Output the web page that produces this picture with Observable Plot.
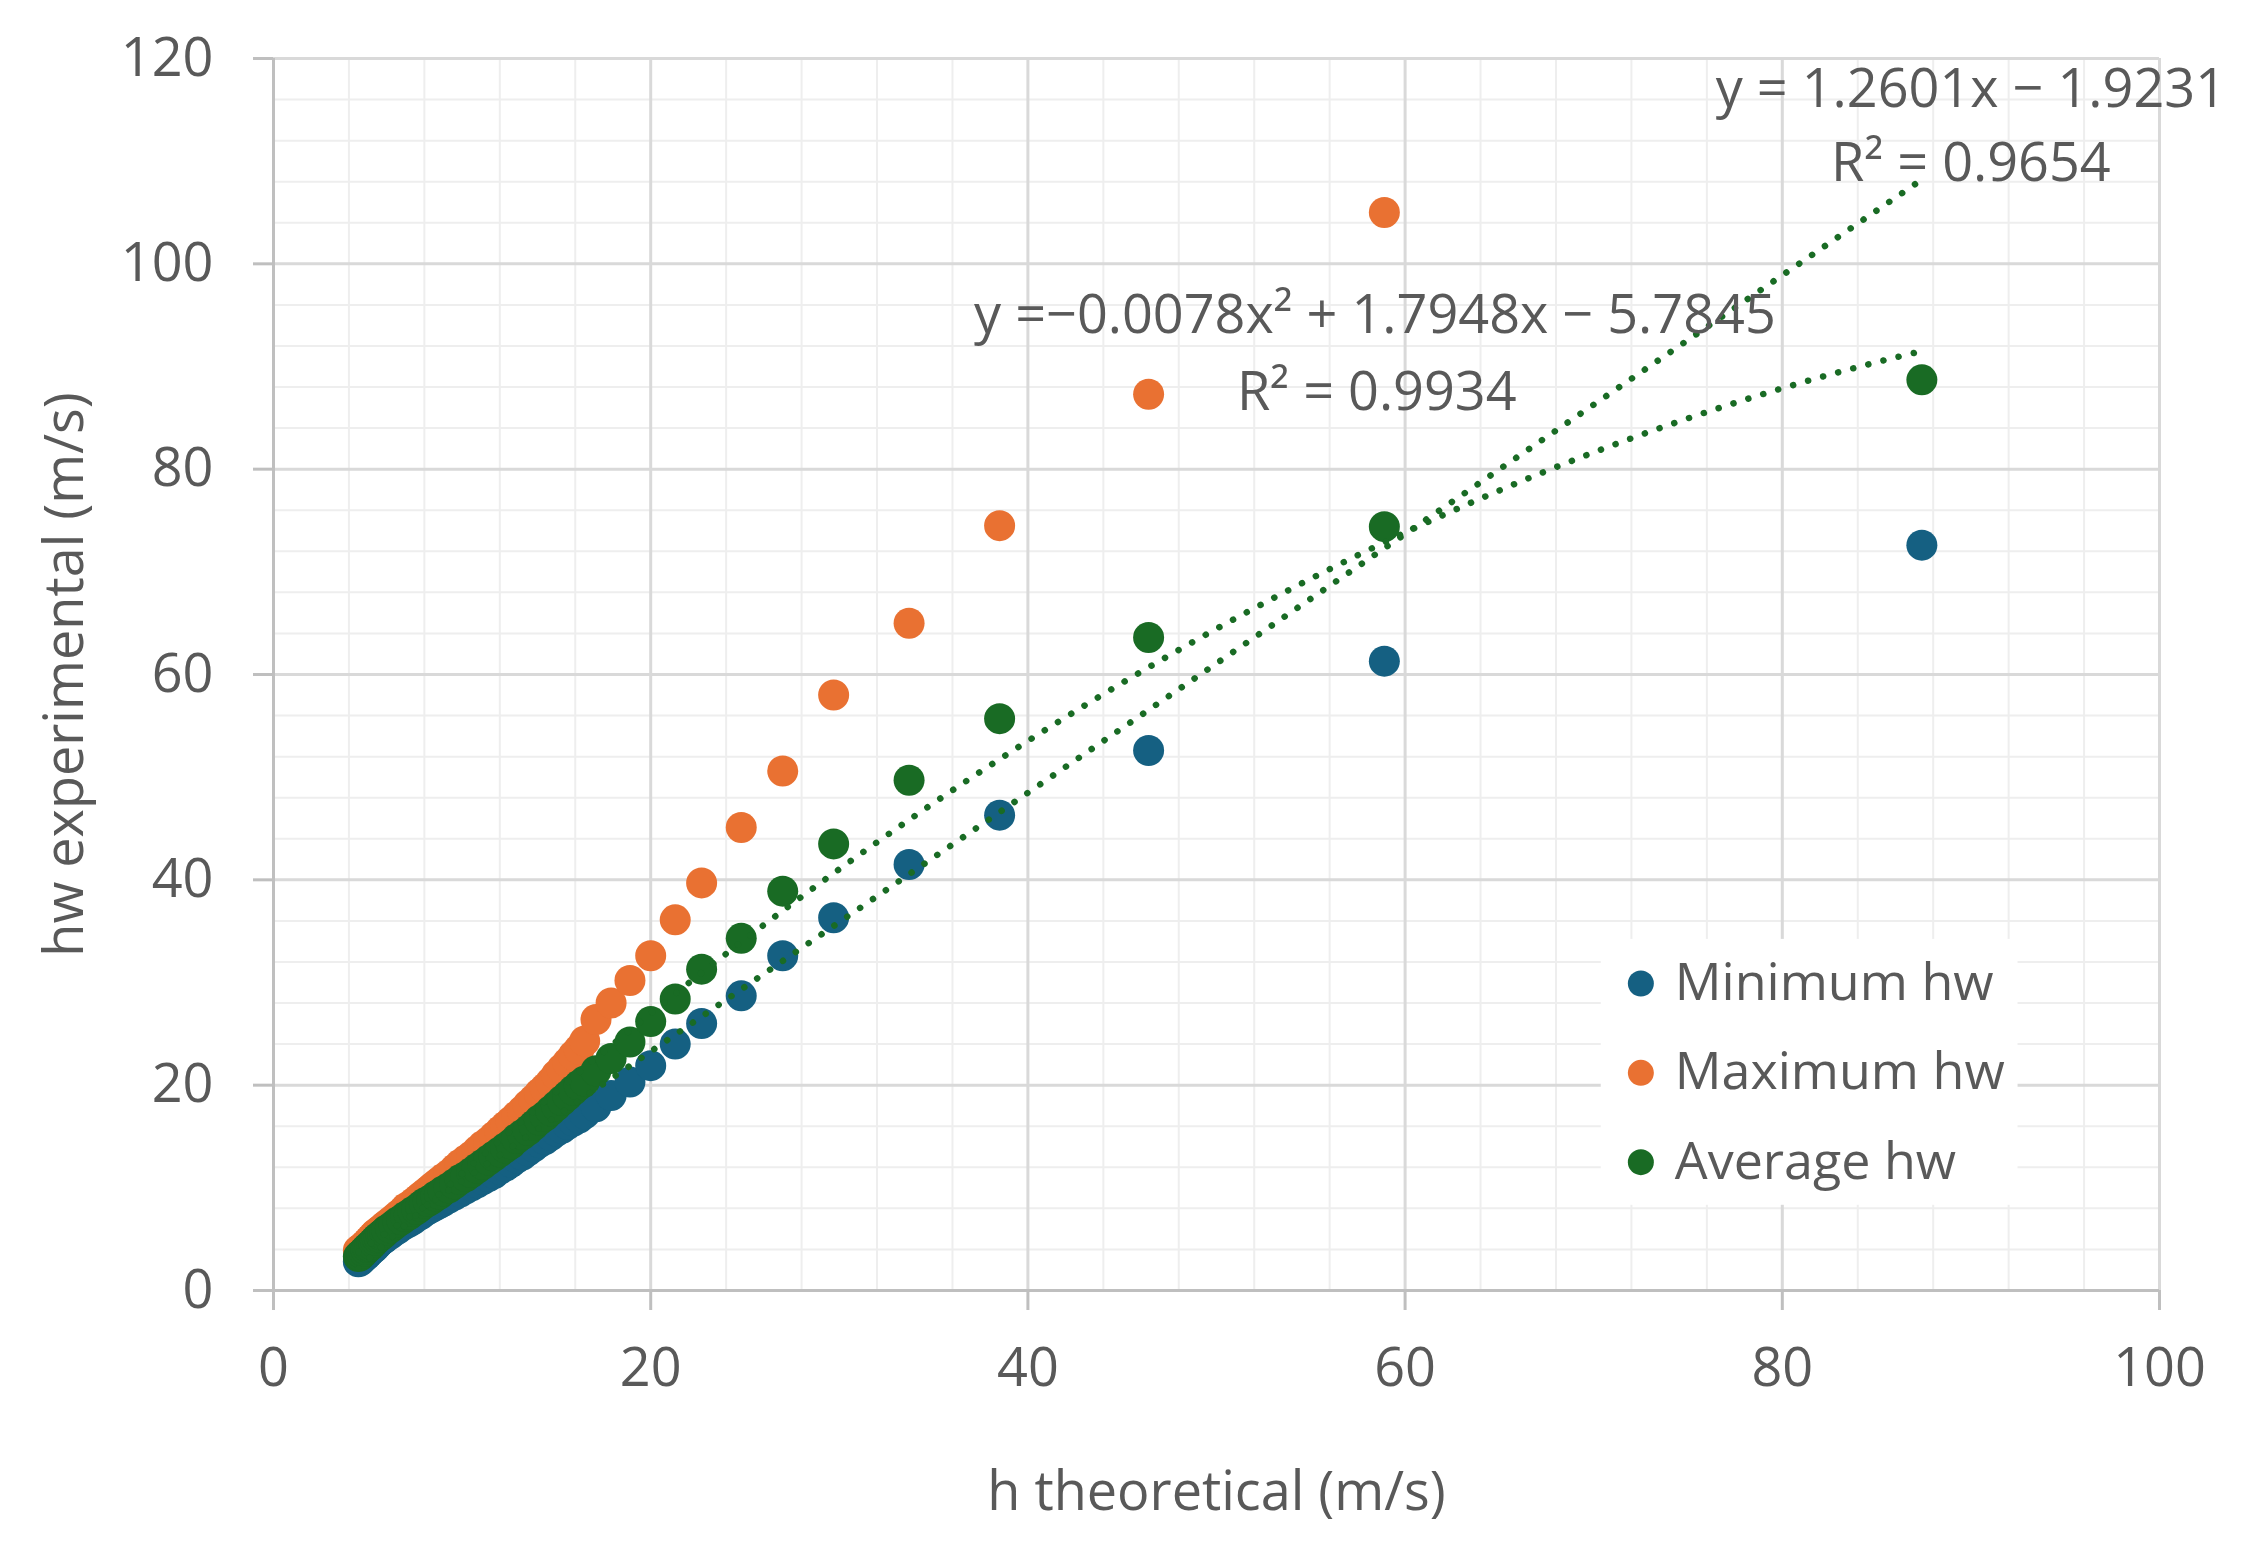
<!DOCTYPE html>
<html>
<head>
<meta charset="utf-8">
<script src="https://cdn.jsdelivr.net/npm/d3@7"></script>
<script src="https://cdn.jsdelivr.net/npm/@observablehq/plot@0.6"></script>
<style>
  body { margin: 0; background: #fff; }
</style>
</head>
<body>
<div id="chart"></div>
<script>
// h theoretical (m/s)
const hTheo = [4.5, 4.6, 4.7, 4.8, 4.9, 5.0, 5.1, 5.2, 5.3, 5.4, 5.5, 5.6, 5.7, 5.8, 5.9, 6.0, 6.2, 6.4, 6.6, 6.8,
  7.0, 7.2, 7.4, 7.6, 7.8, 8.0, 8.2, 8.4, 8.6, 8.8, 9.0, 9.3, 9.6, 9.9, 10.2, 10.5, 10.8, 11.1, 11.4, 11.7,
  12.0, 12.3, 12.6, 12.9, 13.2, 13.5, 13.8, 14.1, 14.4, 14.7, 15.0, 15.3, 15.6, 15.9, 16.2, 16.5, 17.1, 17.9,
  18.9, 20.0, 21.3, 22.7, 24.8, 27.0, 29.7, 33.7, 38.5, 46.4, 58.9, 87.4];

const hwMin = [2.8, 2.9, 3.1, 3.3, 3.4, 3.6, 3.8, 4.0, 4.1, 4.3, 4.5, 4.7, 4.9, 5.0, 5.1, 5.3, 5.5, 5.8, 6.0, 6.3,
  6.5, 6.7, 6.9, 7.2, 7.4, 7.7, 7.9, 8.1, 8.3, 8.5, 8.7, 9.0, 9.3, 9.6, 9.9, 10.2, 10.5, 10.8, 11.1, 11.4,
  11.8, 12.1, 12.5, 12.9, 13.2, 13.6, 14.0, 14.4, 14.7, 15.1, 15.5, 15.8, 16.2, 16.5, 16.8, 17.2, 17.9, 19.0,
  20.3, 21.9, 24.0, 26.0, 28.7, 32.6, 36.3, 41.5, 46.3, 52.6, 61.3, 72.6];

// last maximum point lies above the 120 limit, not shown
const hwMax = [3.9, 4.0, 4.2, 4.3, 4.5, 4.7, 4.9, 5.1, 5.3, 5.5, 5.6, 5.8, 5.9, 6.1, 6.2, 6.4, 6.7, 7.0, 7.3, 7.6,
  8.0, 8.2, 8.5, 8.8, 9.1, 9.4, 9.7, 10.0, 10.3, 10.6, 10.9, 11.3, 11.8, 12.3, 12.7, 13.1, 13.6, 14.1, 14.5, 15.0,
  15.5, 16.0, 16.5, 17.0, 17.5, 18.1, 18.6, 19.2, 19.7, 20.3, 21.0, 21.6, 22.2, 22.9, 23.5, 24.3, 26.4, 28.0,
  30.2, 32.6, 36.1, 39.7, 45.1, 50.6, 58.0, 65.0, 74.5, 87.3, 105.0, null];

const hwAvg = [3.3, 3.4, 3.6, 3.8, 4.0, 4.2, 4.3, 4.5, 4.7, 4.9, 5.1, 5.2, 5.4, 5.5, 5.7, 5.9, 6.1, 6.4, 6.7, 6.9,
  7.2, 7.4, 7.7, 7.9, 8.2, 8.5, 8.7, 8.9, 9.2, 9.4, 9.7, 10.0, 10.4, 10.8, 11.1, 11.5, 11.9, 12.3, 12.7, 13.1,
  13.5, 13.9, 14.3, 14.8, 15.2, 15.6, 16.1, 16.6, 17.0, 17.5, 18.0, 18.5, 19.0, 19.5, 20.0, 20.4, 21.4, 22.6,
  24.2, 26.2, 28.4, 31.3, 34.3, 38.9, 43.5, 49.7, 55.7, 63.6, 74.4, 88.7];

const seriesNames = ["Minimum hw", "Maximum hw", "Average hw"];
const seriesColors = ["#156082", "#E97132", "#196B24"];

// trendlines of the average series, as printed on the chart
const linCoef = [1.2601, -1.9231];
const polyCoef = [-0.0078, 1.7948, -5.7845];
const linLabel = ["y = 1.2601x \u2212 1.9231", "R\u00B2 = 0.9654"];
const polyLabel = ["y =\u22120.0078x\u00B2 + 1.7948x \u2212 5.7845", "R\u00B2 = 0.9934"];

const majorTicks = [0, 20, 40, 60, 80, 100];
const majorTicksY = [0, 20, 40, 60, 80, 100, 120];
const minorTicks = [4, 8, 12, 16, 24, 28, 32, 36, 44, 48, 52, 56, 64, 68, 72, 76, 84, 88, 92, 96];
const minorTicksY = minorTicks.concat([104, 108, 112, 116]);

const rows = hTheo.map((x, i) => ({x, min: hwMin[i], max: hwMax[i], avg: hwAvg[i]}));

const xMin = d3.min(hTheo), xMax = d3.max(hTheo);
const trendX = d3.range(xMin, xMax, 0.5).concat([xMax]);
const linTrend = trendX.map(x => ({x, y: linCoef[0] * x + linCoef[1]}));
const polyTrend = trendX.map(x => ({x, y: polyCoef[0] * x * x + polyCoef[1] * x + polyCoef[2]}));

const grey = "#595959";
const axisGrey = "#BFBFBF";
const dotted = {stroke: "#196B24", strokeWidth: 6.5, strokeDasharray: "0.1 15.5", strokeLinecap: "round"};

const legend = seriesNames.map((name, i) => ({name, color: seriesColors[i], y: [29.9, 21.2, 12.5][i]}));

const chart = Plot.plot({
  width: 2244,
  height: 1542,
  marginLeft: 273,
  marginRight: 85,
  marginTop: 58,
  marginBottom: 252,
  style: {fontFamily: "'Open Sans', sans-serif", fontSize: "54px", color: grey, background: "#fff", overflow: "visible"},
  x: {domain: [0, 100]},
  y: {domain: [0, 120]},
  marks: [
    Plot.gridX(minorTicks, {stroke: "#EEEEEE", strokeOpacity: 1, strokeWidth: 2}),
    Plot.gridY(minorTicksY, {stroke: "#EEEEEE", strokeOpacity: 1, strokeWidth: 2}),
    Plot.gridX(majorTicks, {stroke: "#D9D9D9", strokeOpacity: 1, strokeWidth: 3}),
    Plot.gridY(majorTicksY, {stroke: "#D9D9D9", strokeOpacity: 1, strokeWidth: 3}),
    Plot.ruleX([0], {stroke: axisGrey, strokeWidth: 3}),
    Plot.ruleY([0], {stroke: axisGrey, strokeWidth: 3}),
    Plot.axisX(majorTicks, {tickSize: 20, tickPadding: 37, stroke: axisGrey, strokeWidth: 3, fill: grey, fontSize: 54, label: null}),
    Plot.axisY(majorTicksY, {tickSize: 20, tickPadding: 40, stroke: axisGrey, strokeWidth: 3, fill: grey, fontSize: 54, label: null}),
    Plot.text(["h theoretical (m/s)"], {frameAnchor: "bottom", lineAnchor: "middle", dy: 202, fill: grey, fontSize: 54}),
    Plot.text(["hw experimental (m/s)"], {frameAnchor: "left", textAnchor: "middle", lineAnchor: "middle", dx: -208, rotate: -90, fill: grey, fontSize: 54}),
    // legend box
    Plot.rect([0], {x1: 70.4, x2: 92.5, y1: 8.3, y2: 34.2, fill: "#fff"}),
    Plot.dot(legend, {x: 72.5, y: "y", r: 13, fill: "color"}),
    Plot.text(legend, {x: 74.3, y: "y", text: "name", textAnchor: "start", fill: grey, fontSize: 52}),
    // series
    Plot.dot(rows, {x: "x", y: "min", r: 15.5, fill: seriesColors[0]}),
    Plot.dot(rows, {x: "x", y: "max", r: 15.5, fill: seriesColors[1]}),
    Plot.dot(rows, {x: "x", y: "avg", r: 15.5, fill: seriesColors[2]}),
    Plot.line(linTrend, {x: "x", y: "y", ...dotted}),
    Plot.line(polyTrend, {x: "x", y: "y", curve: "natural", ...dotted}),
    // trendline equations
    Plot.text(linLabel, {x: 90.0, y: [117.0, 109.8], text: d => d, fill: grey, fontSize: 54}),
    Plot.text(polyLabel, {x: [58.4, 58.5], y: [94.9, 87.4], text: d => d, fill: grey, fontSize: 54})
  ]
});

d3.select("#chart").append(() => chart);
</script>
</body>
</html>
